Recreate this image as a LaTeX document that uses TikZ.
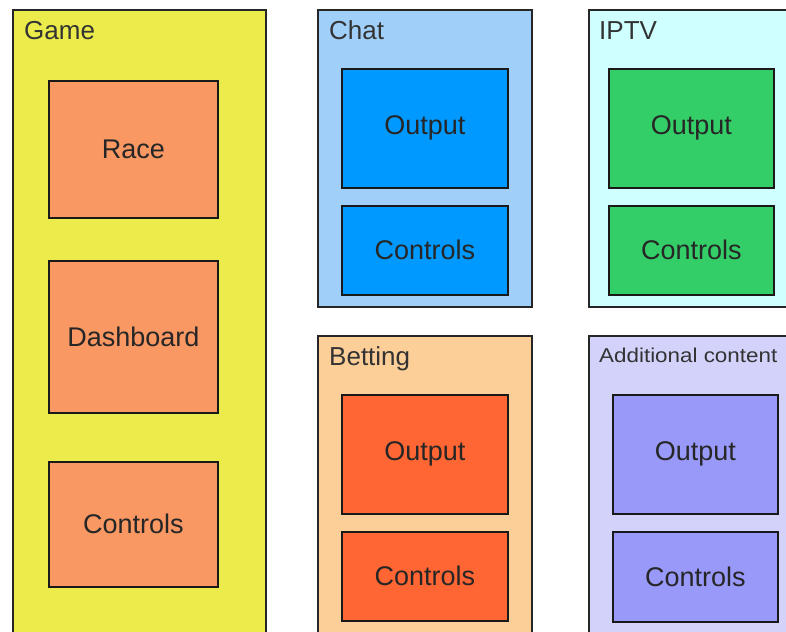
\documentclass[tikz,border=0pt]{standalone}
\usepackage{fontspec}
\setmainfont{Liberation Sans}
\definecolor{gameyellow}{RGB}{235,235,76}
\definecolor{gameorange}{RGB}{250,152,100}
\definecolor{chatlight}{RGB}{160,208,250}
\definecolor{chatblue}{RGB}{0,153,255}
\definecolor{iptvlight}{RGB}{208,255,255}
\definecolor{iptvgreen}{RGB}{51,206,104}
\definecolor{betlight}{RGB}{252,206,152}
\definecolor{betorange}{RGB}{255,102,51}
\definecolor{addlight}{RGB}{210,210,250}
\definecolor{addpurple}{RGB}{153,153,250}
\begin{document}
\begin{tikzpicture}[x=1pt, y=-1pt,
        area/.style={draw=black!85, line width=1.6pt, anchor=north west, inner sep=0pt},
        block/.style={draw=black!90, line width=1.6pt, anchor=north west, inner sep=0pt,
            text=black!85, font=\fontsize{27}{30}\selectfont},
        title/.style={anchor=base west, inner sep=0pt, text=black!80, font=\fontsize{26}{30}\selectfont}]
    \useasboundingbox (0,0) rectangle (786,631);
    \clip (0,0) rectangle (786,631);

    % Game column
    \node[area, fill=gameyellow, minimum width=253pt, minimum height=660pt] (game) at (12,9) {};
    \node[title] (gametitle) at (24,40) {Game};
    \node[block, fill=gameorange, minimum width=169pt, minimum height=137pt] (race) at (48,80) {Race};
    \node[block, fill=gameorange, minimum width=169pt, minimum height=152pt] (dash) at (48,260) {Dashboard};
    \node[block, fill=gameorange, minimum width=169pt, minimum height=125pt] (gamectl) at (48,461) {Controls};

    % Chat
    \node[area, fill=chatlight, minimum width=214pt, minimum height=297pt] (chat) at (317,9) {};
    \node[title] (chattitle) at (329,40) {Chat};
    \node[block, fill=chatblue, minimum width=166pt, minimum height=119pt] (chatout) at (341,68) {Output};
    \node[block, fill=chatblue, minimum width=166pt, minimum height=89pt] (chatctl) at (341,205) {Controls};

    % IPTV
    \node[area, fill=iptvlight, minimum width=230pt, minimum height=297pt] (iptv) at (588,9) {};
    \node[title] (iptvtitle) at (599,40) {IPTV};
    \node[block, fill=iptvgreen, minimum width=165pt, minimum height=119pt] (iptvout) at (608,68) {Output};
    \node[block, fill=iptvgreen, minimum width=165pt, minimum height=89pt] (iptvctl) at (608,205) {Controls};

    % Betting
    \node[area, fill=betlight, minimum width=214pt, minimum height=330pt] (bet) at (317,335) {};
    \node[title] (bettitle) at (329,365) {Betting};
    \node[block, fill=betorange, minimum width=166pt, minimum height=119pt] (betout) at (341,394) {Output};
    \node[block, fill=betorange, minimum width=166pt, minimum height=89pt] (betctl) at (341,531) {Controls};

    % Additional content (title is set a bit wide)
    \node[area, fill=addlight, minimum width=230pt, minimum height=330pt] (add) at (588,335) {};
    \node[title, font=\fontsize{20}{24}\selectfont] (addtitle) at (599,362) {\scalebox{1.12}[1]{Additional content}};
    \node[block, fill=addpurple, minimum width=165pt, minimum height=119pt] (addout) at (612,394) {Output};
    \node[block, fill=addpurple, minimum width=165pt, minimum height=90pt] (addctl) at (612,531) {Controls};
\end{tikzpicture}
\end{document}
